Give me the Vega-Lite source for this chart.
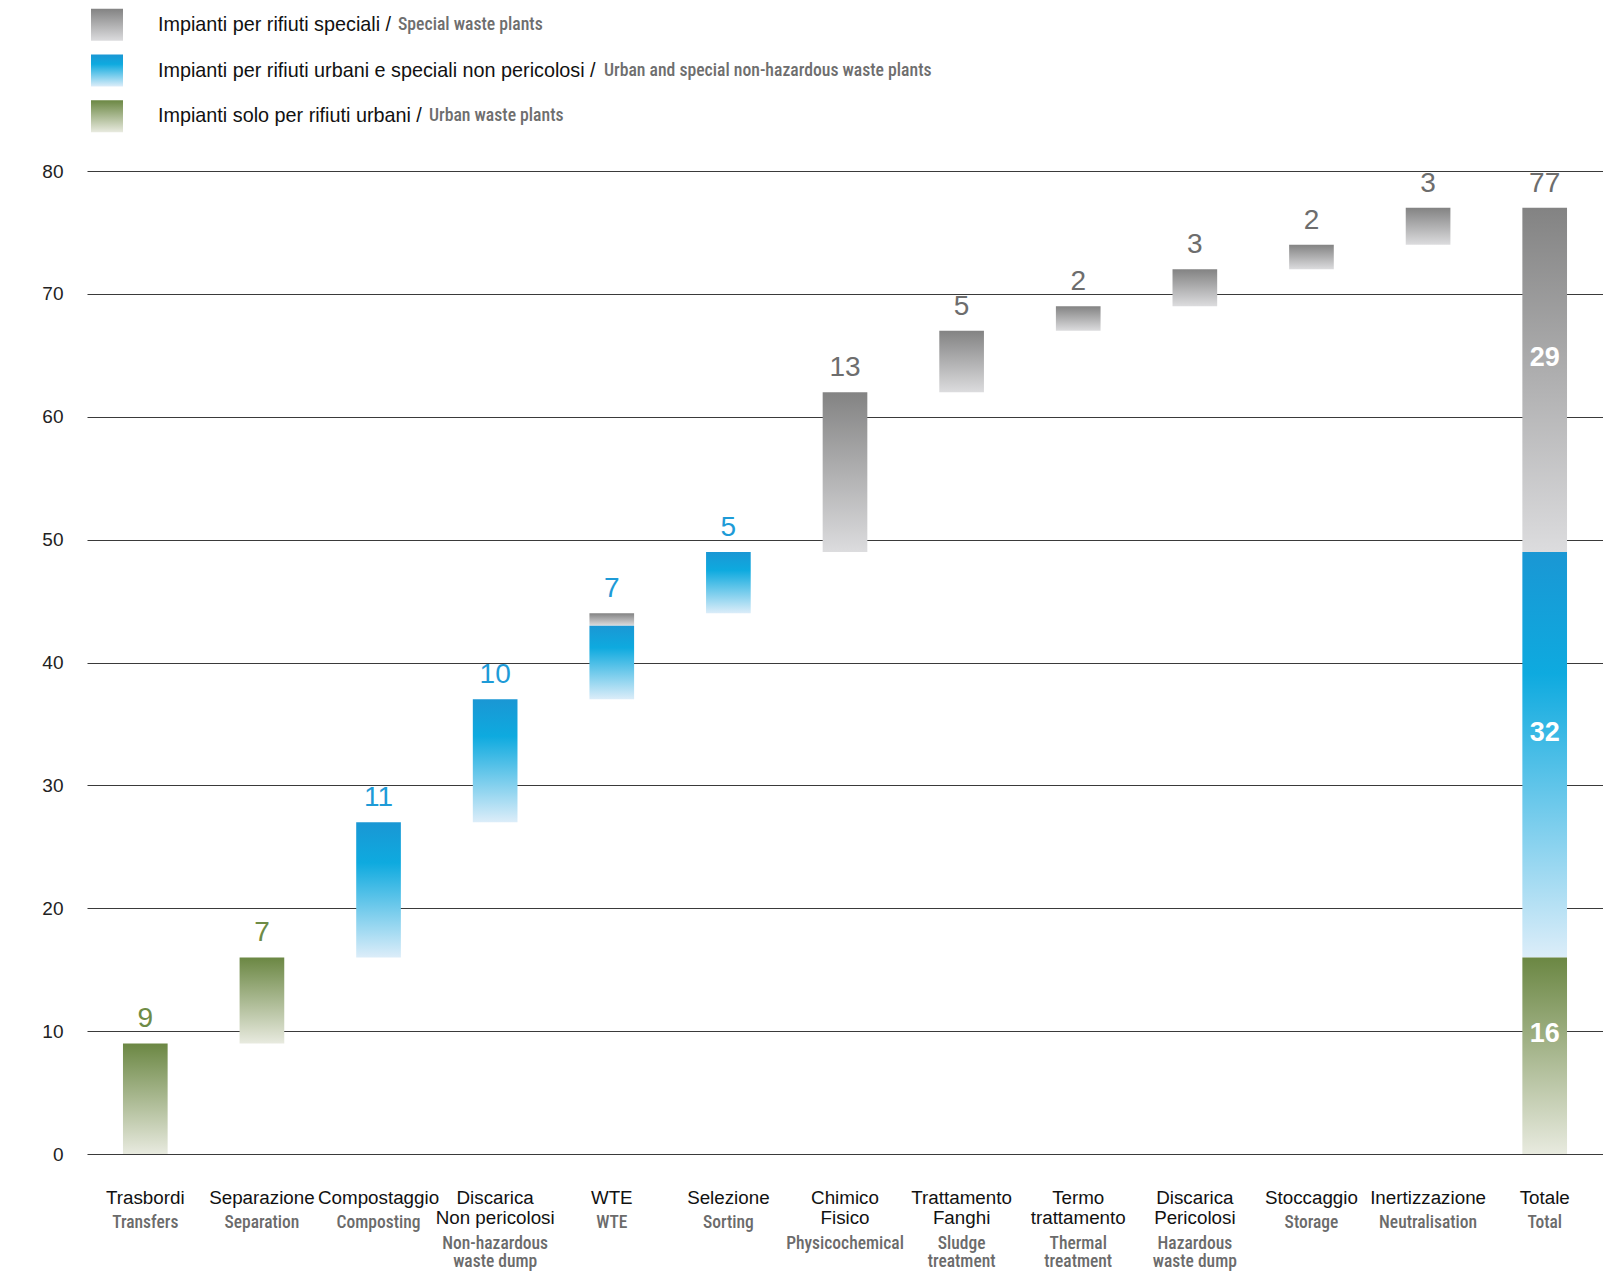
{
  "$schema": "https://vega.github.io/schema/vega-lite/v6.json",
  "padding": {"left": 41, "top": 2, "right": 0, "bottom": 0},
  "bounds": "flush",
  "spacing": 32,
  "background": "white",
  "config": {"view": {"stroke": null}, "font": "Liberation Sans"},
  "datasets": {
    "legend": [
      {"key": "special", "it": "Impianti per rifiuti speciali /", "en": "Special waste plants"},
      {"key": "mixed", "it": "Impianti per rifiuti urbani e speciali non pericolosi /", "en": "Urban and special non-hazardous waste plants"},
      {"key": "urban", "it": "Impianti solo per rifiuti urbani /", "en": "Urban waste plants"}
    ],
    "segments": [
      {"cat": "Trasbordi", "type": "urban", "start": 0, "end": 9},
      {"cat": "Separazione", "type": "urban", "start": 9, "end": 16},
      {"cat": "Compostaggio", "type": "mixed", "start": 16, "end": 27},
      {"cat": "Discarica\nNon pericolosi", "type": "mixed", "start": 27, "end": 37},
      {"cat": "WTE", "type": "mixed", "start": 37, "end": 43},
      {"cat": "WTE", "type": "special", "start": 43, "end": 44},
      {"cat": "Selezione", "type": "mixed", "start": 44, "end": 49},
      {"cat": "Chimico\nFisico", "type": "special", "start": 49, "end": 62},
      {"cat": "Trattamento\nFanghi", "type": "special", "start": 62, "end": 67},
      {"cat": "Termo\ntrattamento", "type": "special", "start": 67, "end": 69},
      {"cat": "Discarica\nPericolosi", "type": "special", "start": 69, "end": 72},
      {"cat": "Stoccaggio", "type": "special", "start": 72, "end": 74},
      {"cat": "Inertizzazione", "type": "special", "start": 74, "end": 77},
      {"cat": "Totale", "type": "urban", "start": 0, "end": 16},
      {"cat": "Totale", "type": "mixed", "start": 16, "end": 49},
      {"cat": "Totale", "type": "special", "start": 49, "end": 77}
    ],
    "bars": [
      {"cat": "Trasbordi", "en": "Transfers", "top": 9, "n": 9, "type": "urban"},
      {"cat": "Separazione", "en": "Separation", "top": 16, "n": 7, "type": "urban"},
      {"cat": "Compostaggio", "en": "Composting", "top": 27, "n": 11, "type": "mixed"},
      {"cat": "Discarica\nNon pericolosi", "en": "Non-hazardous\nwaste dump", "top": 37, "n": 10, "type": "mixed"},
      {"cat": "WTE", "en": "WTE", "top": 44, "n": 7, "type": "mixed"},
      {"cat": "Selezione", "en": "Sorting", "top": 49, "n": 5, "type": "mixed"},
      {"cat": "Chimico\nFisico", "en": "Physicochemical", "top": 62, "n": 13, "type": "special"},
      {"cat": "Trattamento\nFanghi", "en": "Sludge\ntreatment", "top": 67, "n": 5, "type": "special"},
      {"cat": "Termo\ntrattamento", "en": "Thermal\ntreatment", "top": 69, "n": 2, "type": "special"},
      {"cat": "Discarica\nPericolosi", "en": "Hazardous\nwaste dump", "top": 72, "n": 3, "type": "special"},
      {"cat": "Stoccaggio", "en": "Storage", "top": 74, "n": 2, "type": "special"},
      {"cat": "Inertizzazione", "en": "Neutralisation", "top": 77, "n": 3, "type": "special"},
      {"cat": "Totale", "en": "Total", "top": 77, "n": 77, "type": "special"}
    ],
    "inner": [
      {"cat": "Totale", "type": "urban", "start": 0, "end": 16, "n": 16},
      {"cat": "Totale", "type": "mixed", "start": 16, "end": 49, "n": 32},
      {"cat": "Totale", "type": "special", "start": 49, "end": 77, "n": 29}
    ]
  },
  "vconcat": [
    {
      "width": 1516,
      "height": 137,
      "data": {"name": "legend"},
      "encoding": {
        "y": {"field": "key", "type": "nominal", "scale": {"domain": ["special", "mixed", "urban"], "paddingInner": 0.3, "paddingOuter": 0.15}, "axis": null}
      },
      "layer": [
        {
          "transform": [{"filter": "datum.key === 'special'"}],
          "mark": {"type": "rect", "color": {"gradient": "linear", "x1": 0, "y1": 0, "x2": 0, "y2": 1, "stops": [{"offset": 0, "color": "#838383"}, {"offset": 1, "color": "#dcdcde"}]}},
          "encoding": {"x": {"value": 4}, "x2": {"value": 36}}
        },
        {
          "transform": [{"filter": "datum.key === 'mixed'"}],
          "mark": {"type": "rect", "color": {"gradient": "linear", "x1": 0, "y1": 0, "x2": 0, "y2": 1, "stops": [{"offset": 0, "color": "#1a97d4"}, {"offset": 0.3, "color": "#0eaadf"}, {"offset": 1, "color": "#dcedf9"}]}},
          "encoding": {"x": {"value": 4}, "x2": {"value": 36}}
        },
        {
          "transform": [{"filter": "datum.key === 'urban'"}],
          "mark": {"type": "rect", "color": {"gradient": "linear", "x1": 0, "y1": 0, "x2": 0, "y2": 1, "stops": [{"offset": 0, "color": "#6b8743"}, {"offset": 1, "color": "#e8eadf"}]}},
          "encoding": {"x": {"value": 4}, "x2": {"value": 36}}
        },
        {
          "mark": {"type": "text", "align": "left", "baseline": "middle", "fontSize": 19.8, "color": "#111111"},
          "encoding": {"x": {"value": 71}, "text": {"field": "it"}}
        },
        {
          "transform": [{"filter": "datum.key === 'special'"}],
          "mark": {"type": "text", "align": "left", "baseline": "middle", "fontSize": 17.7, "font": "Roboto Condensed, Roboto, sans-serif", "fontWeight": 500, "color": "#6e6e6e"},
          "encoding": {"x": {"value": 311}, "text": {"field": "en"}}
        },
        {
          "transform": [{"filter": "datum.key === 'mixed'"}],
          "mark": {"type": "text", "align": "left", "baseline": "middle", "fontSize": 17.7, "font": "Roboto Condensed, Roboto, sans-serif", "fontWeight": 500, "color": "#6e6e6e"},
          "encoding": {"x": {"value": 517}, "text": {"field": "en"}}
        },
        {
          "transform": [{"filter": "datum.key === 'urban'"}],
          "mark": {"type": "text", "align": "left", "baseline": "middle", "fontSize": 17.7, "font": "Roboto Condensed, Roboto, sans-serif", "fontWeight": 500, "color": "#6e6e6e"},
          "encoding": {"x": {"value": 342}, "text": {"field": "en"}}
        }
      ]
    },
    {
      "width": 1516,
      "height": 983,
      "encoding": {
        "x": {
          "field": "cat",
          "type": "nominal",
          "scale": {
            "domain": ["Trasbordi", "Separazione", "Compostaggio", "Discarica\nNon pericolosi", "WTE", "Selezione", "Chimico\nFisico", "Trattamento\nFanghi", "Termo\ntrattamento", "Discarica\nPericolosi", "Stoccaggio", "Inertizzazione", "Totale"],
            "paddingInner": 0.617,
            "paddingOuter": 0.3085
          },
          "axis": {
            "title": null,
            "labelExpr": "split(datum.value, '\\n')",
            "labelAngle": 0,
            "labelFontSize": 18.8,
            "labelLineHeight": 20,
            "labelColor": "#111111",
            "labelPadding": 34,
            "labelOverlap": false,
            "labelLimit": 0,
            "labelBound": false,
            "domain": false,
            "ticks": false
          }
        }
      },
      "layer": [
        {
          "data": {"name": "segments"},
          "transform": [{"filter": "datum.type === 'special'"}],
          "mark": {"type": "bar", "color": {"gradient": "linear", "x1": 0, "y1": 0, "x2": 0, "y2": 1, "stops": [{"offset": 0, "color": "#838383"}, {"offset": 1, "color": "#dcdcde"}]}},
          "encoding": {
            "y": {
              "field": "start",
              "type": "quantitative",
              "scale": {"domain": [0, 80], "nice": false},
              "axis": {
                "title": null,
                "values": [0, 10, 20, 30, 40, 50, 60, 70, 80],
                "labelFontSize": 19,
                "labelColor": "#222222",
                "labelPadding": 24,
                "ticks": false,
                "domain": false,
                "grid": true,
                "gridColor": "#3a3a3a",
                "gridWidth": 1.2,
                "gridOpacity": 1
              }
            },
            "y2": {"field": "end"}
          }
        },
        {
          "data": {"name": "segments"},
          "transform": [{"filter": "datum.type === 'mixed'"}],
          "mark": {"type": "bar", "color": {"gradient": "linear", "x1": 0, "y1": 0, "x2": 0, "y2": 1, "stops": [{"offset": 0, "color": "#1a97d4"}, {"offset": 0.3, "color": "#0eaadf"}, {"offset": 1, "color": "#dcedf9"}]}},
          "encoding": {
            "y": {"field": "start", "type": "quantitative", "axis": {"title": null}},
            "y2": {"field": "end"}
          }
        },
        {
          "data": {"name": "segments"},
          "transform": [{"filter": "datum.type === 'urban'"}],
          "mark": {"type": "bar", "color": {"gradient": "linear", "x1": 0, "y1": 0, "x2": 0, "y2": 1, "stops": [{"offset": 0, "color": "#6b8743"}, {"offset": 1, "color": "#e8eadf"}]}},
          "encoding": {
            "y": {"field": "start", "type": "quantitative", "axis": {"title": null}},
            "y2": {"field": "end"}
          }
        },
        {
          "data": {"name": "bars"},
          "mark": {"type": "text", "baseline": "middle", "dy": -24, "fontSize": 28},
          "encoding": {
            "y": {"field": "top", "type": "quantitative", "axis": {"title": null}},
            "text": {"field": "n", "type": "quantitative"},
            "color": {"field": "type", "type": "nominal", "scale": {"domain": ["urban", "mixed", "special"], "range": ["#6e8b46", "#1e9bd7", "#6d6d6d"]}, "legend": null}
          }
        },
        {
          "data": {"name": "inner"},
          "transform": [{"fold": ["start", "end"], "as": ["edge", "v"]}],
          "mark": {"type": "text", "baseline": "middle", "dy": -22, "fontSize": 27, "fontWeight": "bold", "color": "white"},
          "encoding": {
            "y": {"field": "v", "type": "quantitative", "aggregate": "mean", "axis": {"title": null}},
            "text": {"field": "n", "type": "quantitative"},
            "detail": {"field": "type"}
          }
        },
        {
          "data": {"name": "bars"},
          "transform": [{"filter": "indexof(datum.cat, '\\n') < 0"}],
          "mark": {"type": "text", "baseline": "top", "dy": 60, "lineBreak": "\n", "lineHeight": 18, "fontSize": 17.5, "font": "Roboto Condensed, Roboto, sans-serif", "fontWeight": 500, "color": "#6b6b6b"},
          "encoding": {"y": {"datum": 0}, "text": {"field": "en"}}
        },
        {
          "data": {"name": "bars"},
          "transform": [{"filter": "indexof(datum.cat, '\\n') >= 0"}],
          "mark": {"type": "text", "baseline": "top", "dy": 81, "lineBreak": "\n", "lineHeight": 18, "fontSize": 17.5, "font": "Roboto Condensed, Roboto, sans-serif", "fontWeight": 500, "color": "#6b6b6b"},
          "encoding": {"y": {"datum": 0}, "text": {"field": "en"}}
        }
      ]
    }
  ]
}
